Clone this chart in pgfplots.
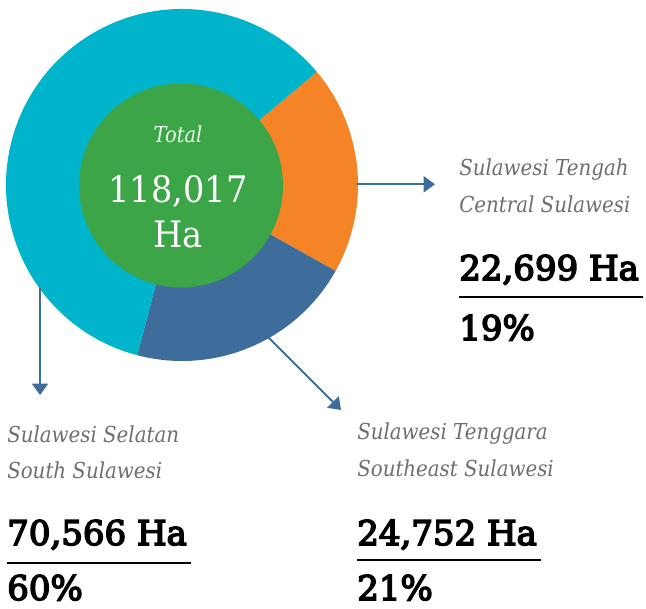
\documentclass[border=0pt]{standalone}
\usepackage{pgfplots}
\pgfplotsset{compat=1.18}
\usepackage{pgfplotstable}
\usetikzlibrary{arrows.meta}
\usepackage{fontspec}
\setmainfont{DejaVu Serif}
\newfontfamily\labfont[FakeStretch=0.9]{DejaVu Serif}
\newfontfamily\totfont[FakeStretch=0.88]{DejaVu Serif}
\newfontfamily\cenfont[FakeStretch=0.92]{DejaVu Serif}
\newfontfamily\numfont[FakeBold=4.5]{DejaVu Serif}
\definecolor{cteal}{HTML}{00B4CB}
\definecolor{corange}{HTML}{F58426}
\definecolor{cblue}{HTML}{3E6D9C}
\definecolor{cgreen}{HTML}{3BA547}
\definecolor{cgray}{HTML}{6D6E71}
\pgfplotstableread[col sep=comma]{
region,value
Tengah,22699
Tenggara,24752
Selatan,70566
}\piedata
\begin{document}
\begin{tikzpicture}
\pgfplotstablegetelem{0}{value}\of\piedata \let\vA\pgfplotsretval
\pgfplotstablegetelem{1}{value}\of\piedata \let\vB\pgfplotsretval
\pgfplotstablegetelem{2}{value}\of\piedata \let\vC\pgfplotsretval
\edef\tot{\fpeval{\vA+\vB+\vC}}
\def\aA{40}
\edef\aB{\fpeval{round(\aA-360*\vA/\tot,3)}}
\edef\aC{\fpeval{round(\aB-360*\vB/\tot,3)}}
\edef\aD{\fpeval{round(\aC-360*\vC/\tot,3)}}
\begin{axis}[
  x=0.75pt, y=0.75pt,
  xmin=0, xmax=646, ymin=0, ymax=609,
  y dir=reverse,
  hide axis, clip=false,
]
\fill[corange] (axis cs:182,185) -- ++(\aA:132pt) arc[start angle=\aA, end angle=\aB, radius=132pt] -- cycle;
\fill[cblue] (axis cs:182,185) -- ++(\aB:132pt) arc[start angle=\aB, end angle=\aC, radius=132pt] -- cycle;
\fill[cteal] (axis cs:182,185) -- ++(\aC:132pt) arc[start angle=\aC, end angle=\aD, radius=132pt] -- cycle;
\fill[cgreen] (axis cs:181,185.5) circle[radius=76.5pt];
% center text
\node[anchor=base, inner sep=0, text=white!92!green, font=\totfont\fontsize{16.5pt}{18pt}\selectfont\itshape] at (axis cs:178,143) {Total};
\node[anchor=base, inner sep=0, text=white, font=\cenfont\fontsize{27.4pt}{30pt}\selectfont] at (axis cs:178,203) {118,017};
\node[anchor=base, inner sep=0, text=white, font=\cenfont\fontsize{27.4pt}{30pt}\selectfont] at (axis cs:178,248) {Ha};
% arrows
\draw[cblue, line width=1.5pt, -{Triangle[length=8.5pt,width=12pt]}] (axis cs:357,184.3) -- (axis cs:435,184.3);
\draw[cblue, line width=1.5pt, -{Triangle[length=8.5pt,width=12pt]}] (axis cs:40,288) -- (axis cs:40,395);
\draw[cblue, line width=1.5pt, -{Triangle[length=8.5pt,width=12pt]}] (axis cs:268,337) -- (axis cs:341,410);
% right group
\node[anchor=base west, inner sep=0, text=cgray, font=\labfont\fontsize{16.5pt}{18pt}\selectfont\itshape] at (axis cs:459,176) {Sulawesi Tengah};
\node[anchor=base west, inner sep=0, text=cgray, font=\labfont\fontsize{16.5pt}{18pt}\selectfont\itshape] at (axis cs:459,213) {Central Sulawesi};
\node[anchor=base west, inner sep=0, text=black, font=\numfont\fontsize{25.5pt}{28pt}\selectfont] at (axis cs:459,280) {22,699 Ha};
\draw[black, line width=1.5pt] (axis cs:459,296.7) -- (axis cs:643,296.7);
\node[anchor=base west, inner sep=0, text=black, font=\numfont\fontsize{25.5pt}{28pt}\selectfont] at (axis cs:459,340) {19\%};
% left group
\node[anchor=base west, inner sep=0, text=cgray, font=\labfont\fontsize{16.5pt}{18pt}\selectfont\itshape] at (axis cs:7,442) {Sulawesi Selatan};
\node[anchor=base west, inner sep=0, text=cgray, font=\labfont\fontsize{16.5pt}{18pt}\selectfont\itshape] at (axis cs:7,478) {South Sulawesi};
\node[anchor=base west, inner sep=0, text=black, font=\numfont\fontsize{25.5pt}{28pt}\selectfont] at (axis cs:7,545) {70,566 Ha};
\draw[black, line width=1.5pt] (axis cs:7,562.5) -- (axis cs:191,562.5);
\node[anchor=base west, inner sep=0, text=black, font=\numfont\fontsize{25.5pt}{28pt}\selectfont] at (axis cs:7,600) {60\%};
% bottom right group
\node[anchor=base west, inner sep=0, text=cgray, font=\labfont\fontsize{16.5pt}{18pt}\selectfont\itshape] at (axis cs:357,439) {Sulawesi Tenggara};
\node[anchor=base west, inner sep=0, text=cgray, font=\labfont\fontsize{16.5pt}{18pt}\selectfont\itshape] at (axis cs:357,476) {Southeast Sulawesi};
\node[anchor=base west, inner sep=0, text=black, font=\numfont\fontsize{25.5pt}{28pt}\selectfont] at (axis cs:357,545) {24,752 Ha};
\draw[black, line width=1.5pt] (axis cs:357,560) -- (axis cs:541,560);
\node[anchor=base west, inner sep=0, text=black, font=\numfont\fontsize{25.5pt}{28pt}\selectfont] at (axis cs:357,600) {21\%};
\end{axis}
\pgfresetboundingbox
\path (current axis.south west) rectangle (current axis.north east);
\end{tikzpicture}
\end{document}
